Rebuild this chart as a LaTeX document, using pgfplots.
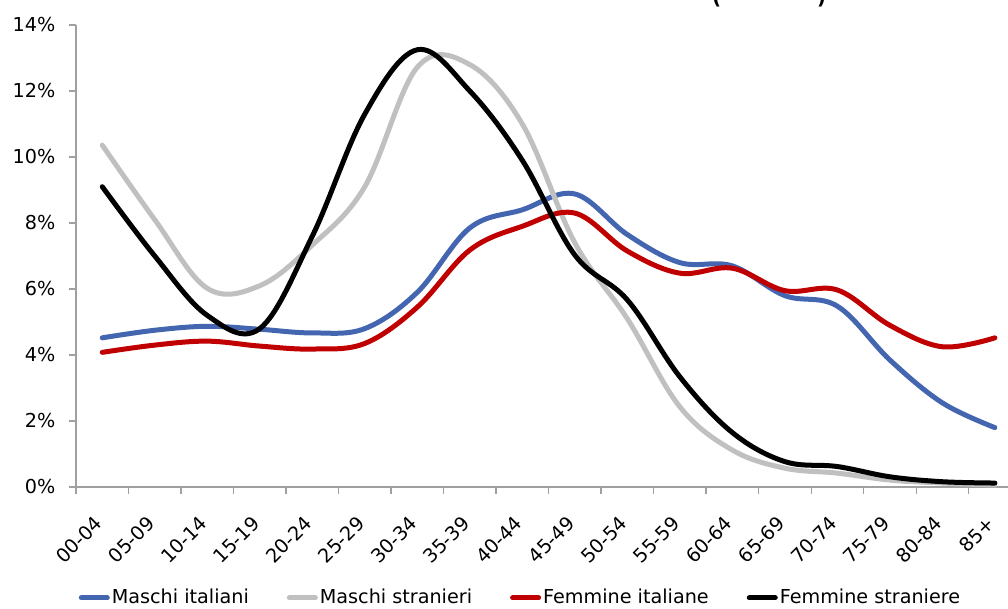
\documentclass[border=0pt]{standalone}
\usepackage{fontspec}
\setmainfont{DejaVu Sans}
\usepackage{pgfplots}
\usepackage{pgfplotstable}
\pgfplotsset{compat=1.18}

\definecolor{mblue}{RGB}{68,102,176}
\definecolor{mgray}{RGB}{192,192,192}
\definecolor{fred}{RGB}{192,0,0}
\definecolor{axgray}{RGB}{160,160,160}

% quota % per classe di eta
\pgfplotstableread{
x  mi    ms     fi    fs
0  4.52  10.36  4.08  9.10
1  4.75  8.10   4.30  7.00
2  4.87  6.02   4.42  5.20
3  4.78  6.10   4.27  4.80
4  4.67  7.33   4.18  7.60
5  4.80  9.10   4.35  11.30
6  5.90  12.72  5.45  13.25
7  7.85  12.80  7.18  12.00
8  8.40  11.00  7.90  9.90
9  8.88  7.40   8.30  7.03
10 7.65  5.10   7.15  5.67
11 6.80  2.43   6.48  3.34
12 6.70  1.12   6.63  1.65
13 5.80  0.57   5.95  0.77
14 5.48  0.42   5.97  0.62
15 3.85  0.21   4.90  0.31
16 2.55  0.12   4.25  0.16
17 1.80  0.06   4.52  0.12
}\eta

\begin{document}
\fontsize{14.4pt}{17pt}\selectfont
\begin{tikzpicture}
\useasboundingbox (-57pt,-90.75pt) rectangle (699pt,365.25pt);
\node[anchor=base west, inner sep=0pt, font=\bfseries] at (477pt,362pt) {(\hspace{72pt})};
\begin{axis}[
    at={(0pt,0pt)}, anchor=south west,
    scale only axis,
    width=699pt, height=346.5pt,
    xmin=-0.5, xmax=17.25,
    ymin=0, ymax=14,
    axis x line*=bottom, axis y line*=left,
    axis line style={axgray, line width=0.9pt},
    tick align=outside,
    xtick={0,...,17},
    xticklabels={00-04,05-09,10-14,15-19,20-24,25-29,30-34,35-39,40-44,45-49,50-54,55-59,60-64,65-69,70-74,75-79,80-84,85+},
    major x tick style={draw=none},
    minor xtick={-0.5,0.5,...,16.5},
    minor tick length=5pt,
    major tick length=5.5pt,
    tick style={axgray, line width=0.9pt},
    ytick={0,2,...,14},
    yticklabel={\pgfmathprintnumber{\tick}\%},
    /pgf/number format/assume math mode=true,
    tick label style={font=\fontsize{14.4pt}{17pt}\selectfont},
    yticklabel style={xshift=-5pt},
    xticklabel style={rotate=45, anchor=east, xshift=-10.6pt, yshift=-11.7pt},
    legend columns=4,
    legend style={at={(axis description cs:0.003,-0.24)}, anchor=west,
        draw=none, fill=none, inner sep=0pt, outer sep=0pt,
        font=\fontsize{14.4pt}{17pt}\selectfont,
        nodes={inner xsep=1.5pt},
        /tikz/every even column/.append style={column sep=27pt}},
    legend image code/.code={\draw[#1] (1.9pt,0pt) -- (21.4pt,0pt);},
    every axis plot/.append style={smooth, tension=0.6, line width=3.75pt, line cap=round, line join=round},
]
\addplot[mblue] table[x=x, y=mi] {\eta};
\addlegendentry{Maschi italiani}
\addplot[mgray] table[x=x, y=ms] {\eta};
\addlegendentry{Maschi stranieri}
\addplot[fred] table[x=x, y=fi] {\eta};
\addlegendentry{Femmine italiane}
\addplot[black] table[x=x, y=fs] {\eta};
\addlegendentry{Femmine straniere}
\end{axis}
\end{tikzpicture}
\end{document}
